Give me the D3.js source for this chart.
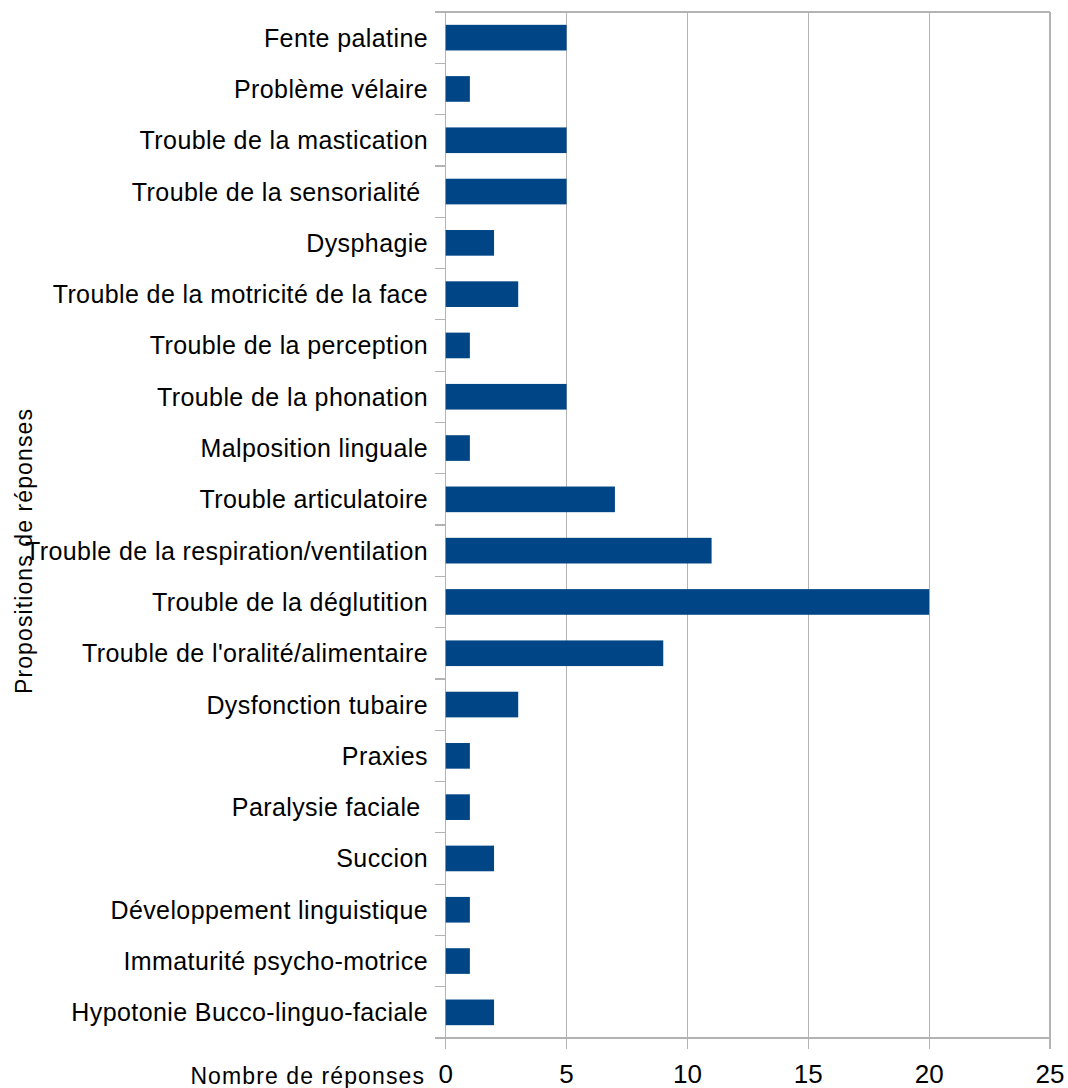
<!DOCTYPE html>
<html><head><meta charset="utf-8">
<script src="https://cdn.jsdelivr.net/npm/d3@7"></script>
<style>body{margin:0;background:#fff}svg{display:block}</style>
</head><body>
<script>
const categories = ["Fente palatine","Problème vélaire","Trouble de la mastication","Trouble de la sensorialité ","Dysphagie","Trouble de la motricité de la face","Trouble de la perception","Trouble de la phonation","Malposition linguale","Trouble articulatoire","Trouble de la respiration/ventilation","Trouble de la déglutition","Trouble de l'oralité/alimentaire","Dysfonction tubaire","Praxies","Paralysie faciale ","Succion","Développement linguistique","Immaturité psycho-motrice","Hypotonie Bucco-linguo-faciale"];
const values = [5,1,5,5,2,3,1,5,1,7,11,20,9,3,1,1,2,1,1,2];
const xTicks = [0,5,10,15,20,25];
const xTitle = "Nombre de réponses";
const yTitle = "Propositions de réponses";

const W = 1068, H = 1088;
const pL = 445.7, pR = 1050, pT = 12, pB = 1038;
const gridColor = "#b3b3b3";
const font = "'Liberation Sans', Arial, sans-serif";

const svg = d3.select("body").append("svg").attr("width", W).attr("height", H);
const x = d3.scaleLinear().domain([0,25]).range([pL,pR]);
const y = d3.scaleBand().domain(categories).range([pT,pB]).paddingInner(0.5).paddingOuter(0.25);
const yb = d3.scaleBand().domain(categories).range([pT,pB]);

svg.append("g").selectAll("line").data(xTicks).join("line")
  .attr("x1", d=>x(d)).attr("x2", d=>x(d)).attr("y1", pT).attr("y2", pB+11)
  .attr("stroke", gridColor).attr("stroke-width", 1.2).attr("shape-rendering","crispEdges");
svg.append("g").selectAll("line").data([pT,pB]).join("line")
  .attr("x1", pL-11).attr("x2", pR).attr("y1", d=>d).attr("y2", d=>d)
  .attr("stroke", gridColor).attr("stroke-width", 1.2).attr("shape-rendering","crispEdges");
svg.append("g").selectAll("line").data(categories.slice(1)).join("line")
  .attr("x1", pL-11).attr("x2", pL).attr("y1", d=>yb(d)).attr("y2", d=>yb(d))
  .attr("stroke", gridColor).attr("stroke-width", 1.2).attr("shape-rendering","crispEdges");

svg.append("g").selectAll("rect").data(categories).join("rect")
  .attr("x", x(0)).attr("y", d=>y(d))
  .attr("width", (d,i)=>x(values[i])-x(0)).attr("height", y.bandwidth())
  .attr("fill", "#004586");

svg.append("g").selectAll("text").data(categories).join("text")
  .attr("x", 428).attr("y", d=>yb(d)+yb.bandwidth()/2).attr("dy","0.36em")
  .attr("text-anchor","end").attr("font-family", font).attr("font-size", 25)
  .attr("letter-spacing", 0.4)
  .attr("fill","#000").style("white-space","pre").text(d=>d);

svg.append("g").selectAll("text").data(xTicks).join("text")
  .attr("x", d=>x(d)).attr("y", 1083).attr("text-anchor","middle")
  .attr("font-family", font).attr("font-size", 26).text(d=>d);

svg.append("text").attr("x", 425).attr("y", 1084).attr("text-anchor","end")
  .attr("font-family", font).attr("font-size", 23).attr("letter-spacing", 1.1).text(xTitle);
svg.append("text").attr("transform","translate(32,551) rotate(-90)").attr("text-anchor","middle")
  .attr("font-family", font).attr("font-size", 23).attr("letter-spacing", 1.1).text(yTitle);
</script>
</body></html>
